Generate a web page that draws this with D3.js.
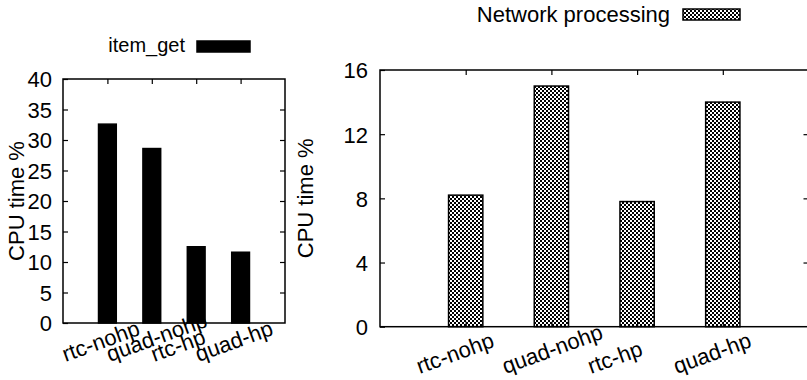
<!DOCTYPE html>
<html>
<head>
<meta charset="utf-8">
<script src="https://cdn.jsdelivr.net/npm/d3@7"></script>
<style>
  html, body { margin: 0; padding: 0; background: #fff; }
  svg { display: block; }
  text { font-family: "Liberation Sans", Arial, Helvetica, sans-serif; fill: #000; }
</style>
</head>
<body>
<svg id="chart" width="807" height="380"></svg>
<script>
// ---- data ----
const categories = ["rtc-nohp", "quad-nohp", "rtc-hp", "quad-hp"];
const itemGetValues = [32.6, 28.6, 12.5, 11.6];
const networkValues = [8.2, 15.0, 7.8, 14.0];
const leftTicks = [0, 5, 10, 15, 20, 25, 30, 35, 40];
const rightTicks = [0, 4, 8, 12, 16];
const leftLegend = "item_get";
const rightLegend = "Network processing";
const yTitle = "CPU time %";

const svg = d3.select("#chart");
const defs = svg.append("defs");
const pat = defs.append("pattern")
  .attr("id", "checker").attr("patternUnits", "userSpaceOnUse")
  .attr("width", 4).attr("height", 4);
pat.append("rect").attr("width", 4).attr("height", 4).attr("fill", "#fff");
pat.append("rect").attr("width", 2).attr("height", 2).attr("fill", "#000");
pat.append("rect").attr("x", 2).attr("y", 2).attr("width", 2).attr("height", 2).attr("fill", "#000");

function panel(cfg) {
  const g = svg.append("g");
  const x = d3.scaleLinear().domain([-1, 4]).range([cfg.left, cfg.right]);
  const y = d3.scaleLinear().domain([0, cfg.ymax]).range([cfg.bottom, cfg.top]);
  const bw = x(0.4) - x(0);
  const idx = categories.map((c, i) => i);

  // bars
  g.selectAll("rect.bar").data(cfg.values).join("rect")
    .attr("class", "bar")
    .attr("x", (d, i) => x(i) - bw / 2)
    .attr("y", d => y(d))
    .attr("width", bw)
    .attr("height", d => y(0) - y(d))
    .attr("fill", cfg.fill)
    .attr("stroke", "#000").attr("stroke-width", 1.5);

  // y axis ticks (inward, mirrored)
  const yAxisL = d3.axisLeft(y).tickValues(cfg.ticks).tickSizeInner(-5).tickSizeOuter(0).tickPadding(cfg.tickPad);
  const ga = g.append("g").attr("transform", `translate(${cfg.left},0)`).call(yAxisL);
  ga.select(".domain").remove();
  ga.selectAll("line").attr("stroke", "#000").attr("stroke-width", 1.2);
  ga.selectAll("text").style("font-size", "22px").attr("dy", "0.36em");

  const yAxisR = d3.axisRight(y).tickValues(cfg.ticks.slice(1, -1)).tickSize(-5).tickFormat("");
  const gr = g.append("g").attr("transform", `translate(${cfg.right},0)`).call(yAxisR);
  gr.select(".domain").remove();
  gr.selectAll("line").attr("stroke", "#000").attr("stroke-width", 1.2);

  // x ticks top and bottom (inward)
  const xAxisT = d3.axisTop(x).tickValues(idx).tickSize(-5).tickFormat("");
  const gt = g.append("g").attr("transform", `translate(0,${cfg.top})`).call(xAxisT);
  gt.select(".domain").remove();
  gt.selectAll("line").attr("stroke", "#000").attr("stroke-width", 1.2);
  const xAxisB = d3.axisBottom(x).tickValues(idx).tickSize(-5).tickFormat("");
  const gb = g.append("g").attr("transform", `translate(0,${cfg.bottom})`).call(xAxisB);
  gb.select(".domain").remove();
  gb.selectAll("line").attr("stroke", "#000").attr("stroke-width", 1.2);

  // border
  g.append("rect")
    .attr("x", cfg.left).attr("y", cfg.top)
    .attr("width", cfg.right - cfg.left).attr("height", cfg.bottom - cfg.top)
    .attr("fill", "none").attr("stroke", "#000").attr("stroke-width", 1.5);

  // x labels rotated
  g.selectAll("text.xl").data(categories).join("text")
    .attr("class", "xl")
    .attr("transform", (d, i) => `translate(${x(i) + cfg.labelDx},${cfg.labelY}) rotate(-20)`)
    .attr("text-anchor", "start")
    .style("font-size", "22px")
    .text(d => d);

  // y title
  g.append("text")
    .attr("transform", `translate(${cfg.titleX},${(cfg.top + cfg.bottom) / 2}) rotate(-90)`)
    .attr("text-anchor", "middle").attr("dy", "0.36em")
    .style("font-size", "22px")
    .text(yTitle);

  // legend
  g.append("text")
    .attr("x", cfg.legX).attr("y", cfg.legY)
    .attr("text-anchor", "end")
    .style("font-size", cfg.legFont)
    .text(cfg.legend);
  g.append("rect")
    .attr("x", cfg.boxX).attr("y", cfg.boxY)
    .attr("width", cfg.boxW).attr("height", cfg.boxH)
    .attr("fill", cfg.fill).attr("stroke", "#000").attr("stroke-width", 1.5);
}

panel({
  left: 63, right: 285, top: 79, bottom: 323, ymax: 40,
  values: itemGetValues, ticks: leftTicks, fill: "#000", tickPad: 11,
  labelDx: -42, labelY: 362, titleX: 16,
  legend: leftLegend, legX: 185, legY: 52, legFont: "20px",
  boxX: 197, boxY: 41, boxW: 53, boxH: 11
});

panel({
  left: 380, right: 808.5, top: 70, bottom: 326.7, ymax: 16,
  values: networkValues, ticks: rightTicks, fill: "url(#checker)", tickPad: 12,
  labelDx: -46, labelY: 374, titleX: 305,
  legend: rightLegend, legX: 670, legY: 22, legFont: "22px",
  boxX: 683, boxY: 9, boxW: 57, boxH: 11
});
</script>
</body>
</html>
